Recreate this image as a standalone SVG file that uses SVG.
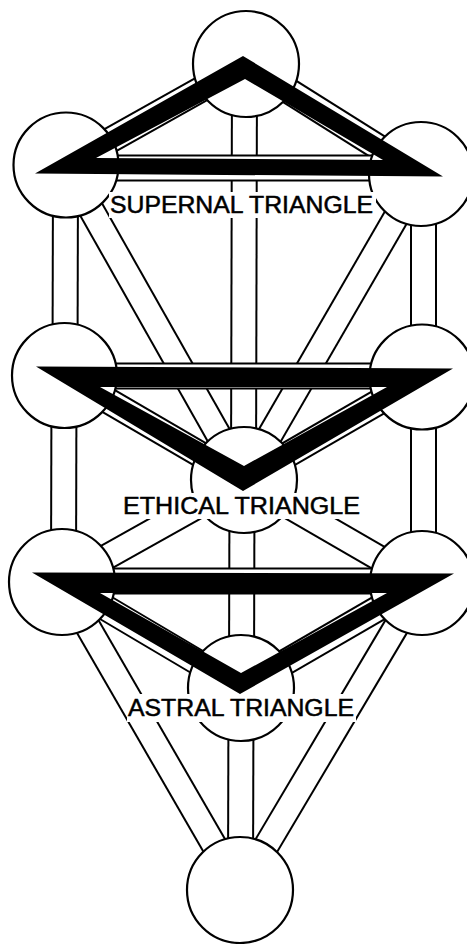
<svg xmlns="http://www.w3.org/2000/svg" width="467" height="944" viewBox="0 0 467 944">
<style>
.o{stroke:#000;stroke-width:27;fill:none}
.i{stroke:#fff;stroke-width:23;fill:none}
.node{fill:#fff;stroke:#000;stroke-width:2.2}
.tri{fill:#000;fill-rule:evenodd}
.bg{fill:#fff}
.lbl{font-family:"Liberation Sans",Arial,sans-serif;font-size:23px;fill:#000;stroke:#000;stroke-width:0.5}
</style>
<rect width="467" height="944" fill="#fff"/>
<g id="connectors">
  <line class="o" x1="244.5" y1="64" x2="243.5" y2="480"/><line class="i" x1="244.5" y1="64" x2="243.5" y2="480"/>
  <line class="o" x1="423.5" y1="174" x2="423.5" y2="377"/><line class="i" x1="423.5" y1="174" x2="423.5" y2="377"/>
  <line class="o" x1="423.5" y1="377" x2="423.5" y2="583"/><line class="i" x1="423.5" y1="377" x2="423.5" y2="583"/>
  <line class="o" x1="65.5" y1="165" x2="65" y2="375"/><line class="i" x1="65.5" y1="165" x2="65" y2="375"/>
  <line class="o" x1="64" y1="375" x2="63.5" y2="582"/><line class="i" x1="64" y1="375" x2="63.5" y2="582"/>
  <line class="o" x1="242" y1="480" x2="241.5" y2="688"/><line class="i" x1="242" y1="480" x2="241.5" y2="688"/>
  <line class="o" x1="241" y1="688" x2="240.5" y2="890"/><line class="i" x1="241" y1="688" x2="240.5" y2="890"/>
  <line class="o" x1="246" y1="64" x2="66" y2="165"/><line class="i" x1="246" y1="64" x2="66" y2="165"/>
  <line class="o" x1="246" y1="64" x2="421" y2="174"/><line class="i" x1="246" y1="64" x2="421" y2="174"/>
  <line class="o" x1="66" y1="165" x2="244" y2="480"/><line class="i" x1="66" y1="165" x2="244" y2="480"/>
  <line class="o" x1="421" y1="174" x2="244" y2="480"/><line class="i" x1="421" y1="174" x2="244" y2="480"/>
  <line class="o" x1="64" y1="375" x2="244" y2="480"/><line class="i" x1="64" y1="375" x2="244" y2="480"/>
  <line class="o" x1="422" y1="377" x2="244" y2="480"/><line class="i" x1="422" y1="377" x2="244" y2="480"/>
  <line class="o" x1="244" y1="480" x2="62" y2="582"/><line class="i" x1="244" y1="480" x2="62" y2="582"/>
  <line class="o" x1="244" y1="480" x2="422" y2="583"/><line class="i" x1="244" y1="480" x2="422" y2="583"/>
  <line class="o" x1="62" y1="582" x2="241" y2="688"/><line class="i" x1="62" y1="582" x2="241" y2="688"/>
  <line class="o" x1="422" y1="583" x2="241" y2="688"/><line class="i" x1="422" y1="583" x2="241" y2="688"/>
  <line class="o" x1="62" y1="582" x2="240" y2="890"/><line class="i" x1="62" y1="582" x2="240" y2="890"/>
  <line class="o" x1="422" y1="583" x2="240" y2="890"/><line class="i" x1="422" y1="583" x2="240" y2="890"/>
  <line class="o" x1="66" y1="168" x2="421" y2="168"/><line class="i" x1="66" y1="168" x2="421" y2="168"/>
  <line class="o" x1="64" y1="376" x2="422" y2="376"/><line class="i" x1="64" y1="376" x2="422" y2="376"/>
  <line class="o" x1="62" y1="581" x2="422" y2="581"/><line class="i" x1="62" y1="581" x2="422" y2="581"/>
</g>
<g id="kether"><circle class="node" cx="246" cy="64" r="53"/></g>
<g id="chokmah"><circle class="node" cx="421" cy="174" r="52"/></g>
<g id="binah"><circle class="node" cx="66" cy="165" r="52.5"/></g>
<g id="chesed"><circle class="node" cx="422" cy="377" r="52.5"/></g>
<g id="geburah"><circle class="node" cx="64.5" cy="375.5" r="52.5"/></g>
<g id="tiphareth"><circle class="node" cx="244" cy="480" r="53"/></g>
<g id="netzach"><circle class="node" cx="422" cy="583" r="52"/></g>
<g id="hod"><circle class="node" cx="62" cy="582" r="53"/></g>
<g id="yesod"><circle class="node" cx="241" cy="688" r="53"/></g>
<g id="malkuth"><circle class="node" cx="240" cy="890" r="53"/></g>
<g id="supernal-triangle">
  <path class="tri" d="M35,173.5 L243,56 L443,176.5 Z M96,158 L245,79 L383,160 Z"/>
  <rect class="bg" x="109" y="192" width="267" height="26"/>
  <text class="lbl" x="110" y="213" textLength="263" lengthAdjust="spacingAndGlyphs">SUPERNAL TRIANGLE</text>
</g>
<g id="ethical-triangle">
  <path class="tri" d="M36,366.5 L453,368.5 L243,491 Z M100,387 L387,387 L244,466 Z"/>
  <rect class="bg" x="118" y="493" width="247" height="26"/>
  <text class="lbl" x="123" y="514" textLength="237" lengthAdjust="spacingAndGlyphs">ETHICAL TRIANGLE</text>
</g>
<g id="astral-triangle">
  <path class="tri" d="M32,572.5 L454,573.5 L240,694 Z M100,593 L387,593 L241,673 Z"/>
  <rect class="bg" x="127" y="694" width="229" height="28"/>
  <text class="lbl" x="128" y="716" textLength="226" lengthAdjust="spacingAndGlyphs">ASTRAL TRIANGLE</text>
</g>
</svg>
